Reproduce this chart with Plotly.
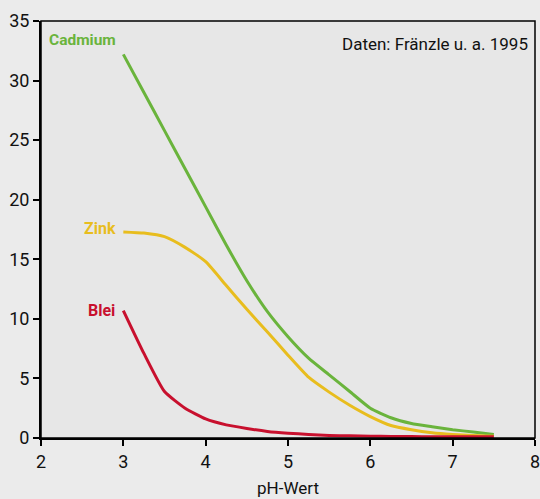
import plotly.graph_objects as go

ph = [3, 3.25, 3.5, 3.75, 4, 4.25, 4.5, 4.75, 5, 5.25, 5.5, 5.75, 6, 6.25, 6.5, 6.75, 7, 7.25, 7.5]
cadmium = [32.2, 29.0, 25.8, 22.6, 19.4, 16.2, 13.2, 10.6, 8.5, 6.7, 5.3, 3.9, 2.5, 1.7, 1.22, 0.95, 0.7, 0.5, 0.3]
zink = [17.3, 17.2, 16.9, 16.0, 14.8, 12.8, 10.8, 8.9, 6.95, 5.1, 3.85, 2.75, 1.8, 1.05, 0.7, 0.45, 0.3, 0.2, 0.15]
blei = [10.7, 7.1, 3.9, 2.5, 1.6, 1.1, 0.8, 0.55, 0.4, 0.3, 0.22, 0.18, 0.15, 0.13, 0.12, 0.11, 0.1, 0.1, 0.1]

x_ticks = [2, 3, 4, 5, 6, 7, 8]
y_ticks = [0, 5, 10, 15, 20, 25, 30, 35]

GREEN = "#6ab43c"
YELLOW = "#e8bd1e"
RED = "#c8102e"
BG = "#ebebeb"
FONT = "Roboto, Liberation Sans, sans-serif"

fig = go.Figure()
for name, vals, col in [("Cadmium", cadmium, GREEN), ("Zink", zink, YELLOW), ("Blei", blei, RED)]:
    fig.add_trace(go.Scatter(x=ph, y=vals, mode="lines", name=name,
                             line=dict(color=col, width=3, shape="spline", smoothing=0.5),
                             showlegend=False, hoverinfo="skip"))

fig.add_annotation(x=2.07, y=33.4, text="<b>Cadmium</b>", showarrow=False, xanchor="left",
                   font=dict(color=GREEN, size=15.5, family=FONT))
fig.add_annotation(x=2.93, y=17.6, text="<b>Zink</b>", showarrow=False, xanchor="right",
                   font=dict(color=YELLOW, size=16, family=FONT))
fig.add_annotation(x=2.92, y=10.7, text="<b>Blei</b>", showarrow=False, xanchor="right",
                   font=dict(color=RED, size=16, family=FONT))
fig.add_annotation(x=7.94, y=33.1, text="Daten: Fränzle u. a. 1995", showarrow=False, xanchor="right",
                   font=dict(color="#111111", size=17, family=FONT))

fig.add_shape(type="rect", xref="paper", yref="paper", x0=0, y0=0, x1=1, y1=1,
              line=dict(color="black", width=1.5), layer="above")

fig.update_xaxes(range=[2, 8], tickvals=x_ticks, showgrid=False, zeroline=False, automargin=False,
                 showline=True, linecolor="black", linewidth=2,
                 ticks="outside", ticklen=6, tickwidth=1.5, tickcolor="black",
                 ticklabeloverflow="allow",
                 tickfont=dict(size=18, family=FONT, color="#111111"),
                 title=dict(text="pH-Wert", font=dict(size=17, family=FONT, color="#111111"), standoff=12))
fig.update_yaxes(range=[0, 35], tickvals=y_ticks, showgrid=False, zeroline=False, automargin=False,
                 showline=True, linecolor="black", linewidth=2,
                 ticks="outside", ticklen=6, tickwidth=1.5, tickcolor="black",
                 tickfont=dict(size=18, family=FONT, color="#111111"))

fig.update_layout(width=540, height=499, margin=dict(l=41, r=5, t=21, b=61),
                  paper_bgcolor=BG, plot_bgcolor="#e7e7e7")

fig.write_html("out.html", config={"displayModeBar": False},
               post_script="document.body.style.margin='0';document.body.style.background='%s';" % BG)
